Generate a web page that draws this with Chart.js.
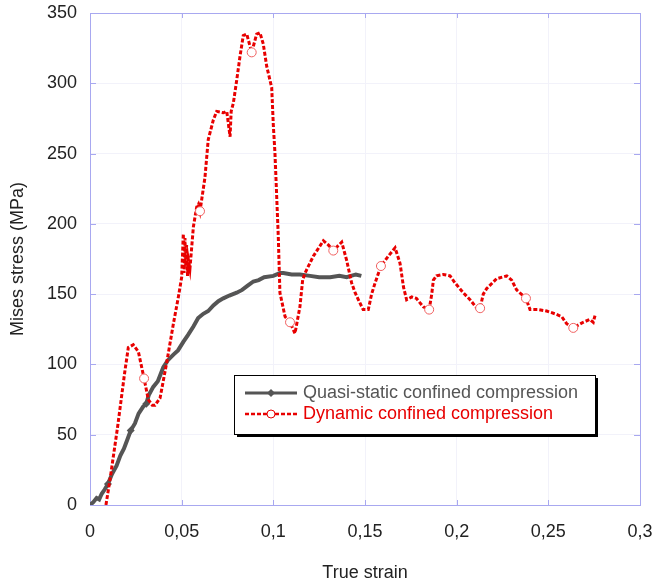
<!DOCTYPE html>
<html lang="en">
<head>
<meta charset="UTF-8" />
<title>Mises stress vs true strain</title>
<script src="https://cdn.jsdelivr.net/npm/chart.js"></script>
<style>
    body {
        margin: 0;
        background: #fff;
    }
    .box {
        position: relative;
        width: 653px;
        height: 584px;
    }
</style>
</head>
<body>
<div class="box">
    <canvas id="grafico"></canvas>
</div>
<script>
    // Quasi-static confined compression
    const qsStrain = [0, 0.0018, 0.0036, 0.005, 0.0064, 0.008, 0.0098, 0.012, 0.0145, 0.0165, 0.0185, 0.0205,
        0.0222, 0.0245, 0.0265, 0.029, 0.0307, 0.032, 0.0345, 0.037, 0.04, 0.0425, 0.0455, 0.048, 0.0509,
        0.0535, 0.0564, 0.059, 0.0618, 0.0645, 0.0673, 0.07, 0.0727, 0.076, 0.08, 0.083, 0.086, 0.0891,
        0.092, 0.095, 0.1, 0.1036, 0.1055, 0.11, 0.1145, 0.12, 0.125, 0.131, 0.136, 0.14, 0.145, 0.148];
    const qsStress = [0, 2, 5, 4, 8, 11, 15, 22, 28, 35, 40, 47,
        53, 58, 65, 70, 72, 78, 84, 88, 98, 103, 107, 110, 116,
        121, 127, 133, 136, 138, 142, 145, 147, 149, 151, 153, 156, 159,
        160, 162, 163, 165, 165, 164, 164, 163, 162, 162, 163, 162, 164, 163];
    const qsMarks = [0.0098, 0.0222, 0.0307];

    // Dynamic confined compression
    const dynStrain = [0.0087, 0.0109, 0.015, 0.019, 0.0209, 0.0236, 0.0264, 0.0295, 0.0318, 0.034, 0.0355,
        0.0382, 0.0418, 0.0455, 0.0482, 0.05, 0.0509, 0.0513, 0.0518, 0.0522, 0.0527, 0.0532, 0.0536,
        0.0545, 0.0564, 0.0582, 0.0591, 0.06, 0.0627, 0.0645, 0.0673, 0.0691, 0.0727, 0.0746, 0.0764,
        0.077, 0.0782, 0.08, 0.0818, 0.0836, 0.0855, 0.0882, 0.0909, 0.0927, 0.0945, 0.0964, 0.0991,
        0.1, 0.1009, 0.1027, 0.1036, 0.1064, 0.1091, 0.1118, 0.1145, 0.116, 0.1173, 0.1218, 0.1273,
        0.13, 0.1327, 0.1373, 0.14, 0.1427, 0.1446, 0.1464, 0.149, 0.1518, 0.1536, 0.1555, 0.1587,
        0.1627, 0.1664, 0.1691, 0.171, 0.1727, 0.1755, 0.178, 0.1818, 0.185, 0.1864, 0.1873, 0.189,
        0.1927, 0.1964, 0.1991, 0.2036, 0.2073, 0.211, 0.2128, 0.2145, 0.2164, 0.2218, 0.2273, 0.23,
        0.2327, 0.2378, 0.24, 0.2446, 0.2491, 0.2537, 0.2573, 0.26, 0.2636, 0.269, 0.2727, 0.2745, 0.2755];
    const dynStress = [0, 18, 55, 95, 112, 114, 109, 90, 75, 71, 71,
        76, 101, 129, 148, 162, 193, 165, 190, 170, 185, 163, 175,
        168, 198, 212, 214, 209, 233, 260, 274, 280, 279, 280, 262,
        280, 286, 302, 319, 334, 335, 322, 335, 336, 328, 312, 297,
        270, 250, 191, 151, 134, 130, 122, 141, 160, 165, 177, 188,
        185, 181, 187, 174, 158, 151, 146, 139, 139, 150, 158, 170,
        177, 183, 172, 155, 146, 148, 147, 141, 139, 150, 160, 163,
        164, 163, 158, 151, 146, 140, 140, 150, 154, 161, 163, 160,
        153, 147, 139, 139, 138, 136, 134, 129, 126, 130, 132, 130, 135];
    const dynMarks = [0.0295, 0.06, 0.0882, 0.1091, 0.1327, 0.1587, 0.185, 0.2128, 0.2378, 0.2636];

    const xTicks = [0, 0.05, 0.1, 0.15, 0.2, 0.25, 0.3];
    const yTicks = [0, 50, 100, 150, 200, 250, 300, 350];
    const seriesNames = ['Quasi-static confined compression', 'Dynamic confined compression'];

    const corCinza = '#555555';
    const corVermelho = '#e80000';
    const corEixo = '#a8a8f0';
    const fonte = 'Arial, "Liberation Sans", sans-serif';

    const pontos = (xs, ys) => xs.map((x, i) => ({ x: x, y: ys[i] }));
    const virgula = v => String(Math.round(v * 100) / 100).replace('.', ',');

    // moldura, marcas internas e legenda
    const moldura = {
        id: 'moldura',
        beforeDatasetsDraw(chart) {
            const { ctx, chartArea: a, scales: { x, y } } = chart;
            ctx.save();
            ctx.strokeStyle = corEixo;
            ctx.lineWidth = 1;
            ctx.strokeRect(a.left + 0.5, a.top + 0.5, a.right - a.left, a.bottom - a.top);
            ctx.beginPath();
            xTicks.forEach(v => {
                const px = Math.round(x.getPixelForValue(v)) + 0.5;
                ctx.moveTo(px, a.bottom); ctx.lineTo(px, a.bottom - 5);
                ctx.moveTo(px, a.top); ctx.lineTo(px, a.top + 5);
            });
            yTicks.forEach(v => {
                const py = Math.round(y.getPixelForValue(v)) + 0.5;
                ctx.moveTo(a.left, py); ctx.lineTo(a.left + 6, py);
                ctx.moveTo(a.right, py); ctx.lineTo(a.right - 6, py);
            });
            ctx.stroke();
            ctx.restore();
        },
        afterDraw(chart) {
            const { ctx, chartArea: a } = chart;
            const bx = a.left + 144, by = a.top + 362, bw = 361, bh = 59;
            ctx.save();
            ctx.fillStyle = '#000';
            ctx.fillRect(bx + 3, by + 3, bw, bh);
            ctx.fillStyle = '#fff';
            ctx.fillRect(bx, by, bw, bh);
            ctx.strokeStyle = '#000';
            ctx.lineWidth = 1;
            ctx.strokeRect(bx + 0.5, by + 0.5, bw, bh);

            const linhas = [
                { y: by + 18, cor: corCinza, dash: [], w: 3 },
                { y: by + 39, cor: corVermelho, dash: [4, 2], w: 2.5 }
            ];
            linhas.forEach((l, i) => {
                ctx.strokeStyle = l.cor;
                ctx.lineWidth = l.w;
                ctx.setLineDash(l.dash);
                ctx.beginPath();
                ctx.moveTo(bx + 11, l.y); ctx.lineTo(bx + 63, l.y);
                ctx.stroke();
                ctx.setLineDash([]);
                ctx.lineWidth = 1;
                const cx = bx + 37;
                if (i === 0) {
                    ctx.fillStyle = corCinza;
                    ctx.beginPath();
                    ctx.moveTo(cx, l.y - 4); ctx.lineTo(cx + 4, l.y); ctx.lineTo(cx, l.y + 4); ctx.lineTo(cx - 4, l.y);
                    ctx.closePath(); ctx.fill();
                } else {
                    ctx.fillStyle = '#fff';
                    ctx.strokeStyle = corVermelho;
                    ctx.beginPath(); ctx.arc(cx, l.y, 4, 0, Math.PI * 2); ctx.fill(); ctx.stroke();
                }
                ctx.fillStyle = l.cor;
                ctx.font = '18px ' + fonte;
                ctx.textBaseline = 'middle';
                ctx.fillText(seriesNames[i], bx + 69, l.y);
            });
            ctx.restore();
        }
    };

    new Chart(document.getElementById('grafico'), {
        type: 'scatter',
        data: {
            datasets: [
                {
                    label: seriesNames[0],
                    data: pontos(qsStrain, qsStress),
                    showLine: true,
                    borderColor: corCinza,
                    borderWidth: 4,
                    backgroundColor: corCinza,
                    pointStyle: 'rectRot',
                    pointRadius: c => qsMarks.includes(c.raw.x) ? 4 : 0,
                    pointBorderWidth: 0,
                    order: 2
                },
                {
                    label: seriesNames[1],
                    data: pontos(dynStrain, dynStress),
                    showLine: true,
                    borderColor: corVermelho,
                    borderWidth: 3,
                    borderDash: [4, 2],
                    backgroundColor: '#fff',
                    pointBorderColor: '#f06060',
                    pointBorderWidth: 1,
                    pointRadius: c => dynMarks.includes(c.raw.x) ? 4.5 : 0,
                    order: 1
                }
            ]
        },
        options: {
            responsive: true,
            maintainAspectRatio: false,
            animation: false,
            layout: { padding: { top: 13, right: 13, left: 0, bottom: 0 } },
            plugins: {
                legend: { display: false },
                tooltip: { enabled: false }
            },
            scales: {
                x: {
                    type: 'linear',
                    min: 0,
                    max: 0.3,
                    afterFit: s => { s.height = 79; s.paddingLeft = 0; s.paddingRight = 0; },
                    afterBuildTicks: s => { s.ticks = xTicks.map(v => ({ value: v })); },
                    ticks: {
                        color: '#222',
                        font: { family: fonte, size: 18 },
                        padding: 16,
                        maxRotation: 0,
                        callback: v => virgula(v)
                    },
                    grid: { color: '#f2f2fa', drawTicks: false },
                    border: { display: false },
                    title: {
                        display: true,
                        text: 'True strain',
                        color: '#222',
                        font: { family: fonte, size: 18 },
                        padding: { top: 0, bottom: 0 }
                    }
                },
                y: {
                    type: 'linear',
                    min: 0,
                    max: 350,
                    afterFit: s => { s.width = 90; s.paddingTop = 0; s.paddingBottom = 0; },
                    afterBuildTicks: s => { s.ticks = yTicks.map(v => ({ value: v })); },
                    ticks: {
                        color: '#222',
                        font: { family: fonte, size: 18 },
                        padding: 13
                    },
                    grid: { color: '#f2f2fa', drawTicks: false },
                    border: { display: false },
                    title: {
                        display: true,
                        text: 'Mises stress (MPa)',
                        color: '#222',
                        font: { family: fonte, size: 18 },
                        padding: { top: 7, bottom: 0 }
                    }
                }
            }
        },
        plugins: [moldura]
    });
</script>
</body>
</html>
